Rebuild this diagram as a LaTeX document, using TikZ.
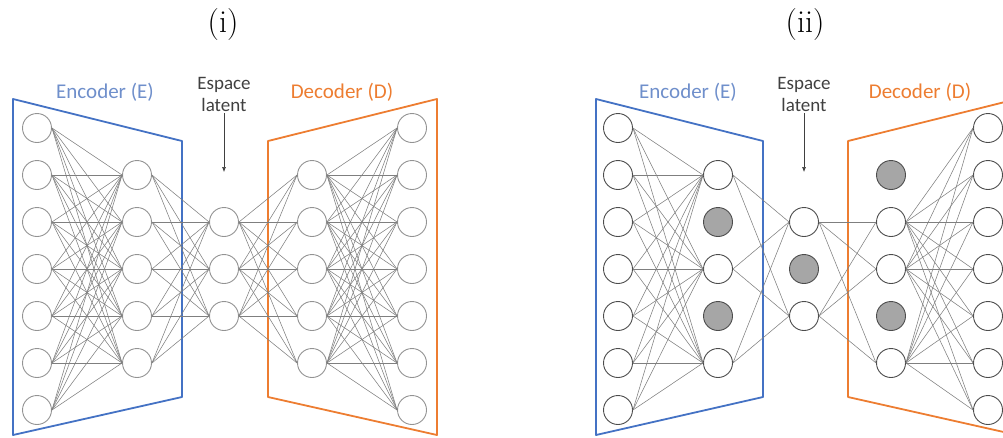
\documentclass[tikz,border=0pt]{standalone}
\usepackage{fontspec}
\usepackage{xcolor}
\usepackage{tikz}
\usetikzlibrary{arrows.meta}
\newfontfamily\labelfont{Carlito}
\definecolor{encblue}{HTML}{4472C4}
\definecolor{encbluetext}{HTML}{6F8FCB}
\definecolor{decorange}{HTML}{ED7D31}
\definecolor{dropgray}{HTML}{A6A6A6}
\definecolor{linkgray}{HTML}{7F7F7F}
\definecolor{textgray}{HTML}{404040}

\begin{document}
\begin{tikzpicture}[x=1pt, y=-1pt,
  neuron/.style={circle, draw=gray!85, line width=0.9pt, minimum size=29pt,
                 inner sep=0pt, fill=white},
  neuronb/.style={neuron, draw=black!70},
  dropped/.style={neuronb, fill=dropgray},
  synapse/.style={draw=linkgray, line width=0.55pt},
  encbox/.style={draw=encblue, line width=1.8pt, line join=round},
  decbox/.style={draw=decorange, line width=1.8pt, line join=round},
  head/.style={font=\labelfont\fontsize{21}{24}\selectfont},
  latentlabel/.style={font=\labelfont\fontsize{19}{22}\selectfont, text=textgray,
                      align=center, inner sep=2pt},
  title/.style={font=\fontsize{32}{36}\selectfont},
  pointer/.style={-{Latex[length=5pt, width=4pt]}, draw=textgray, line width=0.6pt}
]
\useasboundingbox (0,0) rectangle (1003,437);
\clip (0,0) rectangle (1003,437);

% Titles
\node[title] (ti) at (223, 25) {(i)};
\node[title] (tii) at (805, 25) {(ii)};

% ---------------- Panel (i) ----------------
\draw[encbox] (13,99) -- (182,141) -- (182,397) -- (13,435) -- cycle;
\draw[decbox] (268,141) -- (437,99) -- (437,435) -- (268,397) -- cycle;
\node[head, text=encbluetext] (enci) at (105, 92) {Encoder (E)};
\node[head, text=decorange] (deci) at (342, 92) {Decoder (D)};
\node[latentlabel] (lati) at (224, 94) {Espace\\latent};
\coordinate (lati-tip) at (224, 172);
\draw[pointer] (lati) -- (lati-tip);

\foreach \k in {1,...,7} {
  \node[neuron] (i-in-\k) at (37, 128+47*\k-47) {};
  \node[neuron] (i-out-\k) at (412, 128+47*\k-47) {};
}
\foreach \k in {1,...,5} {
  \node[neuron] (i-eh-\k) at (137, 175+47*\k-47) {};
  \node[neuron] (i-dh-\k) at (312, 175+47*\k-47) {};
}
\foreach \k in {1,2,3}
  \node[neuron] (i-z-\k) at (224, 222+47*\k-47) {};

% connections (i)
\foreach \a in {1,...,7}
  \foreach \b in {1,...,5} {
    \draw[synapse] (i-in-\a.east) -- (i-eh-\b.west);
    \draw[synapse] (i-dh-\b.east) -- (i-out-\a.west);
  }
\foreach \a in {1,...,5}
  \foreach \b in {1,2,3} {
    \draw[synapse] (i-eh-\a.east) -- (i-z-\b.west);
    \draw[synapse] (i-z-\b.east) -- (i-dh-\a.west);
  }

% ---------------- Panel (ii) ----------------
\draw[encbox] (596,99) -- (763,141) -- (763,397) -- (596,435) -- cycle;
\draw[decbox] (848,141) -- (1017,99) -- (1017,435) -- (848,397) -- cycle;
\node[head, text=encbluetext] (encii) at (688, 92) {Encoder (E)};
\node[head, text=decorange] (decii) at (920, 92) {Decoder (D)};
\node[latentlabel] (latii) at (804, 94) {Espace\\latent};
\coordinate (latii-tip) at (804, 172);
\draw[pointer] (latii) -- (latii-tip);

\foreach \k in {1,...,7} {
  \node[neuronb] (ii-in-\k) at (618, 128+47*\k-47) {};
  \node[neuronb] (ii-out-\k) at (988, 128+47*\k-47) {};
}
\foreach \k in {1,3,5}
  \node[neuronb] (ii-eh-\k) at (718, 175+47*\k-47) {};
\foreach \k in {2,4}
  \node[dropped] (ii-eh-\k) at (718, 175+47*\k-47) {};
\foreach \k in {2,3,5}
  \node[neuronb] (ii-dh-\k) at (891, 175+47*\k-47) {};
\foreach \k in {1,4}
  \node[dropped] (ii-dh-\k) at (891, 175+47*\k-47) {};
\foreach \k in {1,3}
  \node[neuronb] (ii-z-\k) at (804, 222+47*\k-47) {};
\node[dropped] (ii-z-2) at (804, 269) {};

% connections (ii), dropped units left out
\foreach \a in {1,...,7}
  \foreach \b in {1,3,5}
    \draw[synapse] (ii-in-\a.east) -- (ii-eh-\b.west);
\foreach \a in {1,...,7}
  \foreach \b in {2,3,5}
    \draw[synapse] (ii-dh-\b.east) -- (ii-out-\a.west);
\foreach \a in {1,3,5}
  \foreach \b in {1,3}
    \draw[synapse] (ii-eh-\a.east) -- (ii-z-\b.west);
\foreach \a in {2,3,5}
  \foreach \b in {1,3}
    \draw[synapse] (ii-z-\b.east) -- (ii-dh-\a.west);

\end{tikzpicture}
\end{document}
